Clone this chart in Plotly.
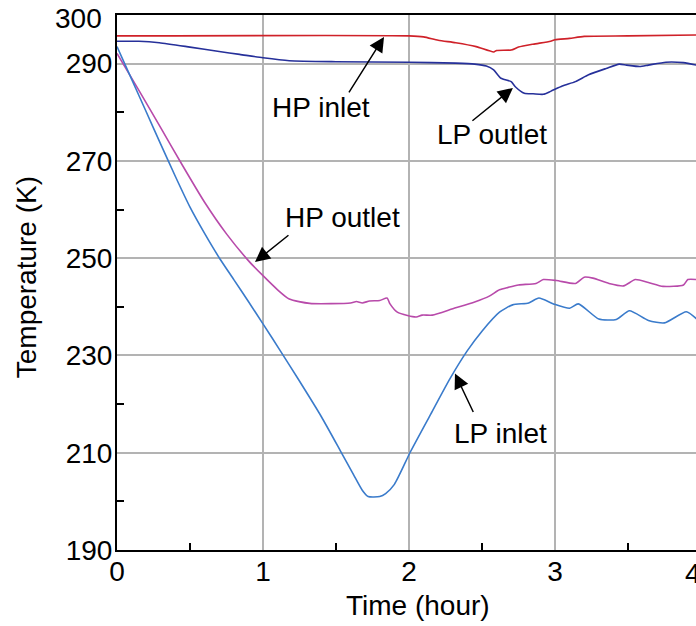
import plotly.graph_objects as go

# Time axis (hours) and temperatures (K) for each stream
hp_inlet_t = [0.0, 2.0, 2.1, 2.2, 2.32, 2.46, 2.58, 2.6, 2.7, 2.75, 2.85, 2.97, 3.0, 3.1, 3.2, 3.5, 3.97]
hp_inlet_T = [295.7, 295.7, 295.5, 294.8, 294.3, 293.5, 292.4, 292.7, 292.8, 293.4, 294.0, 294.6, 294.9, 295.2, 295.6, 295.7, 295.9]

lp_outlet_t = [0.0, 0.15, 0.29, 0.5, 0.7, 0.84, 1.0, 1.18, 1.5, 2.0, 2.32, 2.45, 2.53, 2.58, 2.63, 2.70, 2.73,
               2.79, 2.85, 2.92, 2.97, 3.05, 3.14, 3.23, 3.35, 3.44, 3.49, 3.58, 3.64, 3.76, 3.88, 3.97]
lp_outlet_T = [294.6, 294.6, 294.3, 293.4, 292.5, 291.9, 291.2, 290.6, 290.4, 290.3, 290.1, 289.9, 289.5, 288.7, 287.0, 286.3, 285.2,
               283.9, 283.8, 283.7, 284.3, 285.4, 286.3, 287.7, 289.0, 289.9, 289.7, 289.4, 289.7, 290.3, 290.2, 289.7]

hp_outlet_t = [0.0, 0.15, 0.3, 0.45, 0.6, 0.75, 0.9, 1.0, 1.1, 1.18, 1.32, 1.6, 1.64, 1.68, 1.73, 1.80, 1.85, 1.87,
               1.92, 1.99, 2.05, 2.09, 2.16, 2.30, 2.45, 2.55, 2.62, 2.68, 2.75, 2.87, 2.92, 3.01, 3.14, 3.20,
               3.26, 3.37, 3.47, 3.55, 3.64, 3.74, 3.88, 3.91, 3.97]
hp_outlet_T = [292.1, 284.5, 276.8, 269.0, 261.5, 255.0, 249.5, 246.4, 243.5, 241.6, 240.7, 240.8, 241.1, 240.8, 241.2, 241.3, 241.8, 240.6,
               238.9, 238.2, 237.9, 238.3, 238.3, 239.6, 241.0, 242.2, 243.5, 244.0, 244.5, 244.8, 245.6, 245.4, 244.8, 246.1,
               245.9, 244.8, 244.3, 245.6, 245.0, 244.2, 244.5, 245.6, 245.6]

lp_inlet_t = [0.0, 0.1, 0.2, 0.3, 0.4, 0.5, 0.6, 0.7, 0.8, 0.9, 1.0, 1.12, 1.24, 1.4, 1.53, 1.62, 1.68, 1.72, 1.8, 1.84,
              1.9, 2.01, 2.15, 2.28, 2.4, 2.5, 2.62, 2.71, 2.82, 2.89, 2.99, 3.10, 3.16, 3.30, 3.42, 3.51, 3.64,
              3.75, 3.90, 3.97]
lp_inlet_T = [293.5, 286.8, 280.1, 273.4, 266.8, 260.5, 255.1, 250.1, 245.6, 241.1, 236.5, 230.9, 225.2, 217.4, 210.4, 205.5, 202.3, 201.0, 201.0, 201.6,
              203.5, 210.2, 218.0, 225.2, 231.0, 235.0, 238.9, 240.4, 240.8, 241.8, 240.6, 239.7, 240.6, 237.5, 237.4, 239.2, 237.2,
              236.7, 239.0, 237.5]

y_ticks = [190, 210, 230, 250, 270, 290]
y_minor = [200, 220, 240, 260, 280]
x_ticks = [0, 1, 2, 3]
x_minor = [0.5, 1.5, 2.5, 3.5]

FONT = "Liberation Sans, Arial, sans-serif"

fig = go.Figure()
series = [
    (hp_inlet_t, hp_inlet_T, "#cf2129", "HP inlet"),
    (lp_outlet_t, lp_outlet_T, "#26309a", "LP outlet"),
    (hp_outlet_t, hp_outlet_T, "#b84aaa", "HP outlet"),
    (lp_inlet_t, lp_inlet_T, "#3a7bcb", "LP inlet"),
]
for t, T, c, name in series:
    fig.add_trace(go.Scatter(x=t, y=T, mode="lines", name=name,
                             line=dict(color=c, width=1.6, shape="spline", smoothing=0.6)))

# Curve labels with arrows pointing at each curve
labels = [
    # text, text x, text y, arrow tip x, tip y, tail offset (px)
    ("HP inlet", 1.394, 280.9, 1.829, 295.5, -36, 57),
    ("LP outlet", 2.568, 275.5, 2.712, 285.0, -42, 34),
    ("HP outlet", 1.545, 258.3, 0.945, 249.2, 35, -28),
    ("LP inlet", 2.630, 214.0, 2.315, 226.3, 19, 40),
]
for text, tx, ty, ax_, ay_, dx, dy in labels:
    fig.add_annotation(x=tx, y=ty, text=text, showarrow=False,
                       xanchor="center", yanchor="middle",
                       font=dict(family=FONT, size=28, color="black"))
    fig.add_annotation(x=ax_, y=ay_, text="", showarrow=True, ax=dx, ay=dy,
                       arrowhead=2, arrowsize=2.0, arrowwidth=1.5, arrowcolor="black")

# end labels of both axes: 300 K at the top, t = 4 at the clipped right edge
fig.add_annotation(x=-0.0225, y=0.9938, xref="paper", yref="paper", text="300", showarrow=False,
                   xanchor="right", yanchor="middle",
                   font=dict(family=FONT, size=28, color="black"))
fig.add_annotation(x=0.9948, y=-0.0112, xref="paper", yref="paper", text="4", showarrow=False,
                   xanchor="center", yanchor="top",
                   font=dict(family=FONT, size=28, color="black"))

# axis titles
fig.add_annotation(x=0.52, y=-0.103, xref="paper", yref="paper", text="Time (hour)", showarrow=False,
                   xanchor="center", yanchor="middle", font=dict(family=FONT, size=28, color="black"))
fig.add_annotation(x=-0.157, y=0.51, xref="paper", yref="paper", text="Temperature (K)", showarrow=False,
                   textangle=-90, xanchor="center", yanchor="middle",
                   font=dict(family=FONT, size=28, color="black"))

fig.update_layout(
    width=696, height=626,
    margin=dict(l=117, r=0, t=15, b=76),
    paper_bgcolor="white", plot_bgcolor="white",
    showlegend=False,
    font=dict(family=FONT, size=28, color="black"),
    xaxis=dict(range=[0, 3.966], tickvals=x_ticks, ticktext=[str(v) for v in x_ticks],
               showgrid=True, gridcolor="#b3b3b3", gridwidth=1.5,
               showline=True, linecolor="black", linewidth=2, mirror=True,
               ticks="", zeroline=False, ticklabelstandoff=-5,
               minor=dict(tickvals=x_minor, ticks="inside", ticklen=7, tickcolor="black", tickwidth=1.5, showgrid=False)),
    yaxis=dict(range=[190, 300], tickvals=y_ticks,
               showgrid=True, gridcolor="#b3b3b3", gridwidth=1.5,
               showline=True, linecolor="black", linewidth=2,
               ticks="", zeroline=False, ticklabelstandoff=-3,
               minor=dict(tickvals=y_minor, ticks="inside", ticklen=7, tickcolor="black", tickwidth=1.5, showgrid=False)),
)

fig.write_html("out.html")
